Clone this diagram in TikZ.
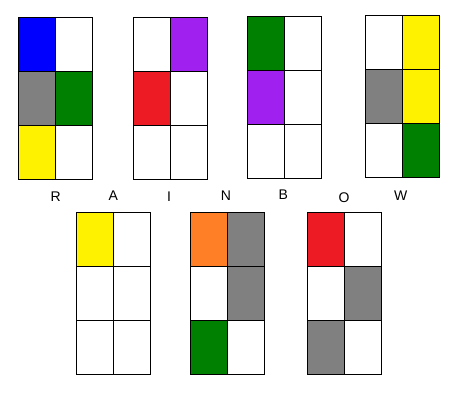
\documentclass[tikz,border=0pt]{standalone}
\usepackage{fontspec}
\setsansfont{Liberation Sans}
\usetikzlibrary{positioning}
\definecolor{pBlue}{HTML}{0000FF}
\definecolor{pGray}{HTML}{808080}
\definecolor{pGreen}{HTML}{008000}
\definecolor{pYellow}{HTML}{FFF200}
\definecolor{pPurple}{HTML}{A020F0}
\definecolor{pRed}{HTML}{ED1C24}
\definecolor{pOrange}{HTML}{FF7F27}
\tikzset{
  every node/.style={font=\sffamily},
  cell/.style={draw, line width=1pt, minimum width=27.75pt, minimum height=40.5pt,
               inner sep=0pt, outer sep=0pt},
  letter/.style={font=\sffamily\fontsize{10.5}{12}\selectfont, text=black},
}

\begin{document}
\begin{tikzpicture}[x=0.75pt, y=-0.75pt]
  \useasboundingbox (0,0) rectangle (468,417);
  % --- the seven 2x3 grids, cells filled row by row ---
  \foreach \gname/\gx/\gy/\cols in {
      gR/18.3/17.3/{pBlue,white,pGray,pGreen,pYellow,white},
      gA/133.3/17.3/{white,pPurple,pRed,white,white,white},
      gI/247.3/16.3/{pGreen,white,pPurple,white,white,white},
      gN/365.3/15.3/{white,pYellow,pGray,pYellow,white,pGreen},
      gB/76.3/212.3/{pYellow,white,white,white,white,white},
      gO/190.3/212.3/{pOrange,pGray,white,pGray,pGreen,white},
      gW/307.3/212.3/{pRed,white,white,pGray,pGray,white}} {
    \foreach \c [count=\i from 0] in \cols {
      \pgfmathtruncatemacro{\col}{mod(\i,2)}
      \pgfmathtruncatemacro{\row}{div(\i,2)}
      \node[cell, fill=\c] (\gname-\i) at (\gx+37*\col+18.5, \gy+54*\row+27) {};
    }
  }
  % --- the letters between the rows ---
  \foreach \ch/\lx/\ly in {R/55.7/196.5, A/113.3/196, I/169/197, N/226/196,
                           B/283.3/195, O/344/198, W/400.7/196} {
    \node[letter] (lbl\ch) at (\lx,\ly) {\ch};
  }
\end{tikzpicture}
\end{document}
